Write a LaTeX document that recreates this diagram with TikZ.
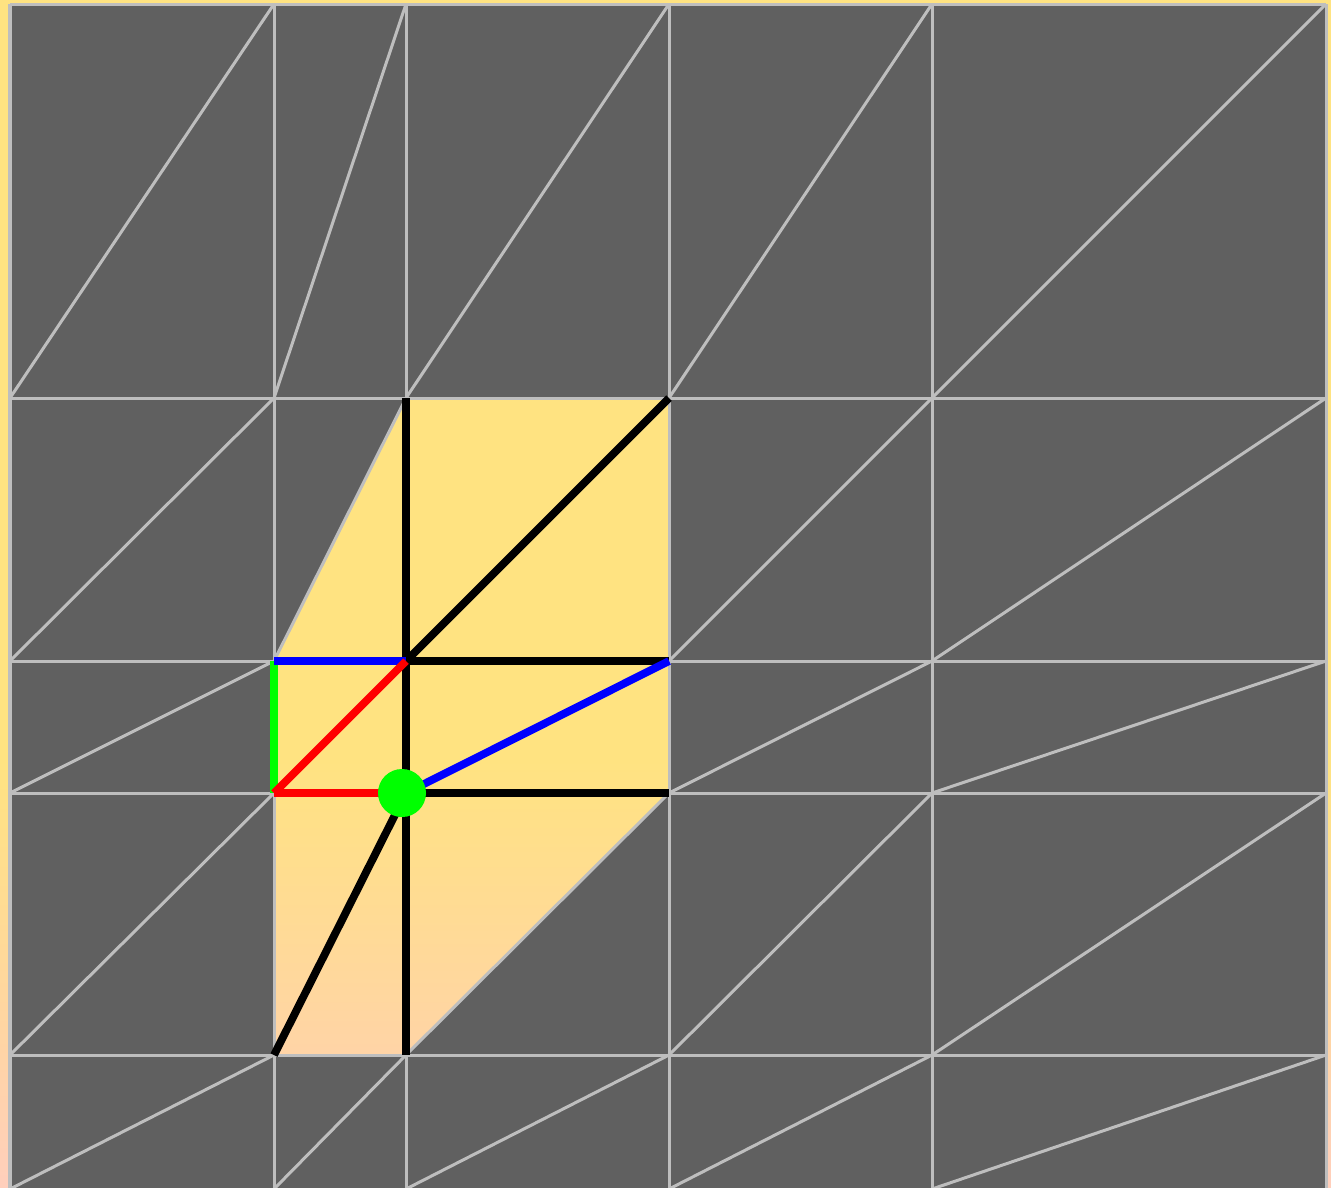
\documentclass[tikz,border=0pt]{standalone}
\definecolor{meshgray}{HTML}{606060}
\definecolor{edgegray}{HTML}{BEBEBE}
\definecolor{bgyellow}{HTML}{FFE381}
\definecolor{bgpeach}{HTML}{FFD5A3}
\definecolor{bgpink}{HTML}{FFCFBC}
\pgfdeclareverticalshading{bgshade}{100bp}{color(0bp)=(bgpink); color(25bp)=(bgpink); color(31.6bp)=(bgpeach); color(43bp)=(bgyellow); color(100bp)=(bgyellow)}
\begin{document}
\begin{tikzpicture}[x=0.01cm,y=-0.01cm]
\useasboundingbox (0,0) rectangle (1331,1187);
\clip (0,0) rectangle (1331,1187);
\shade[shading=bgshade] (0,0) rectangle (1331,1187);
% mesh cells, the patch is left open
\fill[meshgray, even odd rule] (10,4) rectangle (1326,1189)
  (406,398) -- (669,398) -- (669,793) -- (406,1055) -- (274,1055) -- (274,661) -- cycle;
\foreach \y in {4,398,661,793,1055,1189}
  \draw[edgegray, line width=0.03cm] (10,\y) -- (1326,\y);
\foreach \x in {10,274,406,669,932,1326}
  \draw[edgegray, line width=0.03cm] (\x,4) -- (\x,1189);
\foreach \xa/\xb in {10/274,274/406,406/669,669/932,932/1326}
  \foreach \ya/\yb in {4/398,398/661,661/793,793/1055,1055/1189}
    \draw[edgegray, line width=0.03cm] (\xa,\yb) -- (\xb,\ya);
% edges of the patch
\draw[black, line width=0.078cm] (406,398) -- (406,1055);
\draw[black, line width=0.078cm] (406,661) -- (669,661);
\draw[black, line width=0.078cm] (406,793) -- (669,793);
\draw[black, line width=0.078cm] (406,661) -- (669,398);
\draw[black, line width=0.078cm] (274,1055) -- (406,793);
\draw[green, line width=0.078cm] (274,661) -- (274,793);
\draw[blue, line width=0.078cm] (274,661) -- (406,661);
\draw[blue, line width=0.078cm] (406,793) -- (669,661);
\draw[red, line width=0.078cm] (274,793) -- (406,793);
\draw[red, line width=0.078cm] (274,793) -- (406,661);
\fill[green] (402,793) circle (0.24cm);
\end{tikzpicture}
\end{document}
